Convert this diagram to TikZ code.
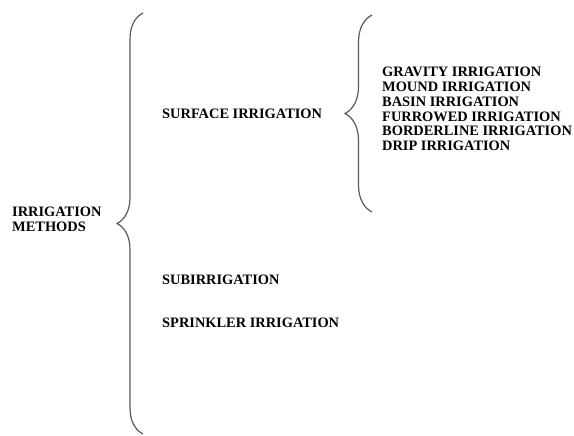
\documentclass[tikz,border=0pt]{standalone}
\usepackage{fontspec}
\setmainfont{Liberation Serif}
\usetikzlibrary{decorations.pathreplacing}
\definecolor{bracecolor}{RGB}{90, 90, 90}

\begin{document}
\begin{tikzpicture}[x=1pt, y=-1pt,
    method/.style={anchor=west, inner sep=0pt, align=left, font=\fontsize{14.4}{15.5}\selectfont\bfseries},
    curly/.style={draw, decorate, decoration={brace, amplitude=#1}, line width=1.2pt, bracecolor}
    ]
    \useasboundingbox (0,0) rectangle (574,436);

    % Define nodes
    \node[method] (root) at (12,219.5) {IRRIGATION\\METHODS};
    \node[method] (surface) at (162,114) {SURFACE IRRIGATION};
    \node[method] (sub) at (162,280) {SUBIRRIGATION};
    \node[method] (sprinkler) at (162,323) {SPRINKLER IRRIGATION};
    \foreach [count = \i] \kind in {GRAVITY, MOUND, BASIN, FURROWED, BORDERLINE, DRIP} {
        \node[method] (kind\i) at (382, 57.2+14.8*\i) {\kind\ IRRIGATION};
    }

    % Define braces
    \coordinate (maintop) at (143,13);
    \coordinate (mainbot) at (143,434);
    \coordinate (subtop) at (372,15);
    \coordinate (subbot) at (372,212);
    \draw[curly=26pt] (mainbot) -- (maintop);
    \draw[curly=27pt] (subbot) -- (subtop);
\end{tikzpicture}
\end{document}
